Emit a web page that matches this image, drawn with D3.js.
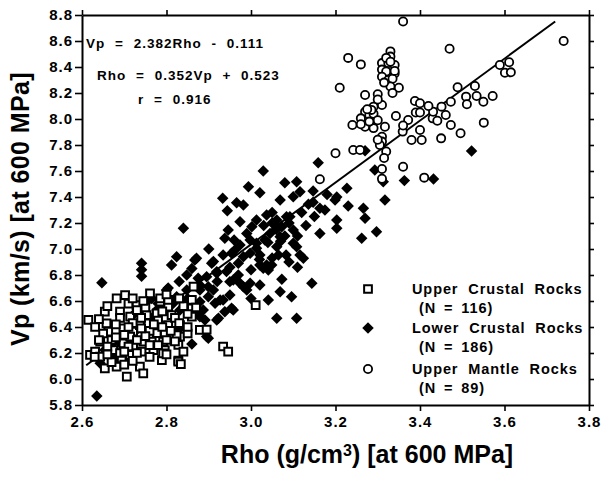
<!DOCTYPE html>
<html>
<head>
<meta charset="utf-8">
<script src="https://cdn.jsdelivr.net/npm/d3@7"></script>
<style>
  body { margin: 0; background: #fff; }
  svg { display: block; font-family: "Liberation Sans", Arial, Helvetica, sans-serif; font-weight: bold; }
  .axis path, .axis line { stroke: #000; }
  .axis path { stroke-width: 2; }
  .axis line { stroke-width: 1.6; }
  .axis text { font-weight: bold; fill: #000; letter-spacing: 1px; font-family: "Liberation Sans", Arial, sans-serif; }
</style>
</head>
<body>
<div class="graph"></div>
<script>
// data: [rho (g/cm3), vp (km/s)] at 600 MPa
const upperCrust = [
  [2.682, 6.62], [2.702, 6.646], [2.615, 6.454], [2.631, 6.40], [2.654, 6.518], [2.658, 6.428],
  [2.662, 6.364], [2.619, 6.185], [2.631, 6.21], [2.643, 6.287], [2.654, 6.082], [2.682, 6.095],
  [2.706, 6.018], [2.694, 6.159], [2.714, 6.185], [2.737, 6.095], [2.745, 6.044], [2.741, 6.21],
  [2.789, 6.146], [2.796, 6.223], [2.828, 6.141], [2.792, 6.287], [2.777, 6.352], [2.804, 6.415],
  [2.832, 6.326], [2.761, 6.659], [2.729, 6.569], [2.785, 6.595], [2.753, 6.492], [2.777, 6.505],
  [2.714, 6.479], [2.69, 6.518], [2.86, 6.608], [2.86, 6.544], [2.86, 6.479], [2.879, 6.377],
  [2.895, 6.38], [2.864, 6.71], [2.757, 6.428], [2.698, 6.39], [2.721, 6.364], [2.765, 6.287],
  [2.745, 6.287], [2.643, 6.172], [2.674, 6.223], [2.698, 6.274], [2.714, 6.326], [2.67, 6.30],
  [2.737, 6.415], [2.812, 6.492], [2.804, 6.556], [2.832, 6.415], [2.796, 6.352], [2.828, 6.262],
  [2.792, 6.197], [2.769, 6.223], [2.721, 6.249], [2.934, 6.25], [2.946, 6.21], [3.011, 6.569],
  [2.824, 6.338], [2.828, 6.133], [2.834, 6.115], [2.785, 6.62], [2.804, 6.608], [2.75, 6.55],
  [2.84, 6.56], [2.66, 6.25], [2.69, 6.20], [2.70, 6.34], [2.72, 6.43], [2.74, 6.47],
  [2.76, 6.37], [2.78, 6.45], [2.80, 6.30], [2.81, 6.37], [2.82, 6.47], [2.78, 6.26],
  [2.75, 6.33], [2.73, 6.30], [2.71, 6.25], [2.68, 6.32], [2.65, 6.35], [2.64, 6.46],
  [2.63, 6.17], [2.67, 6.13], [2.70, 6.11], [2.72, 6.14], [2.76, 6.17], [2.80, 6.19],
  [2.84, 6.21], [2.85, 6.35], [2.83, 6.43], [2.85, 6.50], [2.87, 6.55], [2.79, 6.52],
  [2.73, 6.53], [2.71, 6.58], [2.69, 6.47], [2.66, 6.56], [2.72, 6.62], [2.745, 6.60],
  [2.80, 6.65], [2.83, 6.62], [2.76, 6.26], [2.74, 6.39], [2.71, 6.40], [2.68, 6.42],
  [2.77, 6.42], [2.79, 6.40], [2.82, 6.29], [2.85, 6.40], [2.64, 6.30], [2.66, 6.19],
  [2.70, 6.21], [2.73, 6.20]
]

const lowerCrust = [
  [2.635, 5.87], [2.647, 6.74], [2.741, 6.89], [2.741, 6.84], [2.741, 6.79], [2.804, 6.70],
  [2.812, 6.877], [2.824, 6.94], [2.848, 6.80], [2.867, 6.915], [2.875, 6.775], [2.86, 6.27],
  [2.895, 6.326], [2.919, 6.454], [2.958, 6.531], [2.934, 6.608], [2.879, 6.595], [2.887, 6.531],
  [2.974, 6.736], [2.99, 6.685], [2.95, 6.749], [2.919, 6.826], [2.911, 6.685], [2.907, 6.89],
  [2.84, 7.159], [2.753, 6.595], [2.765, 6.62], [2.745, 6.518], [2.725, 6.505], [2.706, 6.30],
  [2.686, 6.287], [2.674, 6.236], [2.666, 6.197], [2.654, 6.223], [2.80, 6.685], [2.824, 6.633],
  [2.816, 6.582], [2.84, 6.595], [2.848, 6.685], [2.832, 6.531], [2.792, 6.556], [2.777, 6.531],
  [2.875, 6.505], [2.891, 6.454], [2.899, 6.71], [2.899, 6.633], [2.698, 6.223], [2.721, 6.287],
  [2.753, 6.352], [2.765, 6.415], [2.729, 6.377], [2.785, 6.428], [2.769, 6.479], [2.682, 6.172],
  [2.643, 6.121], [2.706, 6.172], [2.911, 6.903], [2.934, 6.954], [2.954, 6.967], [2.982, 6.941],
  [2.998, 6.967], [3.021, 6.877], [3.037, 6.877], [3.049, 6.877], [3.029, 6.851], [3.041, 6.838],
  [3.065, 6.954], [3.116, 6.954], [3.124, 6.928], [3.073, 6.767], [3.144, 6.736], [2.895, 6.787],
  [2.919, 6.813], [2.942, 6.826], [2.958, 6.762], [2.982, 6.71], [2.998, 6.736], [3.021, 6.723],
  [3.069, 6.672], [3.041, 6.608], [3.096, 6.633], [3.061, 6.467], [3.108, 6.467], [2.95, 6.646],
  [2.927, 6.608], [2.915, 6.582], [2.954, 6.544], [2.938, 6.518], [2.923, 6.467], [2.899, 6.313],
  [2.828, 6.377], [2.879, 6.685], [2.879, 6.479], [3.159, 7.663], [3.029, 7.60], [2.994, 7.479],
  [3.021, 7.433], [2.933, 7.39], [2.966, 7.356], [2.982, 7.338], [2.944, 7.295], [3.069, 7.377],
  [3.08, 7.51], [3.108, 7.518], [3.10, 7.402], [3.116, 7.441], [3.147, 7.446], [3.136, 7.344],
  [3.199, 7.377], [3.227, 7.467], [3.266, 7.313], [3.27, 7.236], [3.293, 7.608], [3.317, 7.377],
  [3.203, 7.223], [3.203, 7.159], [3.163, 7.12], [3.262, 7.082], [3.297, 7.133], [2.974, 7.21],
  [2.946, 7.146], [2.938, 7.082], [2.974, 7.03], [2.871, 6.928], [3.013, 7.005], [3.108, 7.018],
  [3.092, 7.249], [3.002, 7.172], [3.013, 7.223], [3.037, 7.262], [3.061, 7.223], [3.084, 7.249],
  [3.073, 7.172], [3.10, 7.146], [3.045, 7.12], [3.033, 7.069], [3.069, 7.095], [3.061, 7.018],
  [3.10, 7.044], [3.013, 7.044], [2.998, 7.069], [2.962, 6.992], [3.021, 6.954], [3.083, 6.954],
  [3.163, 7.313], [3.175, 7.30], [3.147, 7.36], [3.313, 7.518], [3.363, 7.526], [3.432, 7.538],
  [3.203, 7.40], [3.522, 7.754], [3.27, 7.756], [3.05, 7.20], [3.06, 7.15], [3.08, 7.10],
  [3.04, 7.05], [3.07, 7.06], [3.09, 7.20], [3.05, 7.28], [3.11, 7.10], [3.12, 7.28],
  [3.03, 7.18], [2.99, 7.12], [2.96, 7.07], [3.02, 6.92], [3.05, 6.93], [3.09, 6.90],
  [2.97, 6.89], [2.95, 6.86], [2.92, 6.75], [2.97, 6.80], [3.00, 6.84], [2.86, 6.85],
  [2.88, 6.72], [2.83, 6.75], [2.85, 6.62], [2.80, 6.60], [2.78, 6.58], [3.13, 7.18],
  [3.15, 7.25], [3.18, 7.42], [3.23, 7.33], [2.90, 7.00], [3.11, 6.86], [3.00, 6.62]
]

const upperMantle = [
  [3.36, 8.75], [3.74, 8.60], [3.47, 8.54], [3.23, 8.47], [3.26, 8.42], [3.21, 8.24],
  [3.33, 8.52], [3.33, 8.48], [3.31, 8.43], [3.325, 8.43], [3.34, 8.415], [3.31, 8.38],
  [3.32, 8.365], [3.34, 8.35], [3.31, 8.325], [3.325, 8.30], [3.335, 8.31], [3.33, 8.25],
  [3.35, 8.24], [3.335, 8.20], [3.27, 8.185], [3.30, 8.19], [3.29, 8.095], [3.31, 8.108],
  [3.27, 8.056], [3.28, 8.03], [3.29, 8.04], [3.26, 8.005], [3.285, 8.07], [3.24, 7.954],
  [3.27, 7.94], [3.29, 7.93], [3.317, 7.94], [3.343, 8.023], [3.372, 7.992], [3.388, 8.138],
  [3.40, 8.121], [3.39, 8.05], [3.40, 8.05], [3.359, 7.903], [3.40, 7.915], [3.404, 7.838],
  [3.38, 7.838], [3.31, 7.864], [3.31, 7.826], [3.32, 7.75], [3.242, 7.762], [3.258, 7.762],
  [3.20, 7.736], [3.36, 7.633], [3.31, 7.615], [3.31, 7.54], [3.41, 7.549], [3.163, 7.536],
  [3.45, 7.851], [3.43, 8.005], [3.441, 7.987], [3.451, 8.095], [3.461, 8.031], [3.473, 8.133],
  [3.473, 7.954], [3.489, 8.244], [3.509, 8.172], [3.511, 8.113], [3.53, 8.254], [3.534, 8.177],
  [3.55, 8.133], [3.572, 8.177], [3.551, 7.972], [3.496, 7.89], [3.589, 8.415], [3.611, 8.436],
  [3.601, 8.356], [3.615, 8.359], [3.275, 8.075], [3.30, 7.99], [3.305, 7.80], [3.315, 7.70],
  [3.431, 8.056], [3.30, 7.84], [3.32, 8.47], [3.34, 8.37], [3.315, 8.28], [3.28, 7.98],
  [3.26, 7.96], [3.36, 7.95], [3.30, 8.15], [3.42, 8.10], [3.33, 8.44]
]

const xTicks = [2.6, 2.8, 3.0, 3.2, 3.4, 3.6, 3.8]
const yTicks = [5.8, 6.0, 6.2, 6.4, 6.6, 6.8, 7.0, 7.2, 7.4, 7.6, 7.8, 8.0, 8.2, 8.4, 8.6, 8.8]

// regression Vp = a*Rho + b, drawn over this Rho range
const fit = { a: 2.382, b: -0.111 }
const fitRange = [2.61, 3.72]
const equations = ['Vp = 2.382Rho - 0.111', 'Rho = 0.352Vp + 0.523', 'r = 0.916']

const legendNames = ['Upper Crustal Rocks', 'Lower Crustal Rocks', 'Upper Mantle Rocks']
const legendCounts = ['(N = 116)', '(N = 186)', '(N = 89)']

// config
const w = 604
const h = 478
const margin = { left: 82, right: 589, top: 15, bottom: 405 }

const xScale = d3.scaleLinear().domain([2.6, 3.8]).range([margin.left, margin.right])
const yScale = d3.scaleLinear().domain([5.8, 8.8]).range([margin.bottom, margin.top])

const svg = d3.select('.graph')
    .append('svg')
    .attr('width', w)
    .attr('height', h)

// axes
const fmt = d3.format('.1f')
svg.append('g')
    .attr('class', 'axis')
    .attr('transform', 'translate(0,' + margin.bottom + ')')
    .call(d3.axisBottom(xScale).tickValues(xTicks).tickFormat(fmt).tickSizeInner(6).tickSizeOuter(0).tickPadding(5))
svg.append('g')
    .attr('class', 'axis')
    .attr('transform', 'translate(0,' + margin.top + ')')
    .call(d3.axisTop(xScale).tickValues(xTicks).tickFormat('').tickSizeInner(5).tickSizeOuter(0))
svg.append('g')
    .attr('class', 'axis')
    .attr('transform', 'translate(' + margin.left + ',0)')
    .call(d3.axisLeft(yScale).tickValues(yTicks).tickFormat(fmt).tickSizeInner(7).tickSizeOuter(0).tickPadding(2))
svg.append('g')
    .attr('class', 'axis')
    .attr('transform', 'translate(' + margin.right + ',0)')
    .call(d3.axisRight(yScale).tickValues(yTicks).tickFormat('').tickSizeInner(5).tickSizeOuter(0))

svg.selectAll('.axis text').attr('font-size', 15)

// axis titles
const xt = svg.append('text')
    .attr('x', 367)
    .attr('y', 463)
    .attr('text-anchor', 'middle')
    .attr('font-size', 25)
xt.append('tspan').text('Rho (g/cm')
xt.append('tspan').attr('font-size', 16).attr('dy', -7).text('3')
xt.append('tspan').attr('dy', 7).text(') [at 600 MPa]')

svg.append('text')
    .attr('transform', 'translate(29,209) rotate(-90)')
    .attr('text-anchor', 'middle')
    .attr('font-size', 25)
    .attr('letter-spacing', 0.4)
    .text('Vp (km/s) [at 600 MPa]')

// regression line
svg.append('line')
    .attr('x1', xScale(fitRange[0]))
    .attr('y1', yScale(fit.a * fitRange[0] + fit.b))
    .attr('x2', xScale(fitRange[1]))
    .attr('y2', yScale(fit.a * fitRange[1] + fit.b))
    .attr('stroke', '#000')
    .attr('stroke-width', 2)

// markers
const square = d3.symbol(d3.symbolSquare, 60)
const diamond = d3.symbol(d3.symbolSquare, 66)

const points = svg.append('g').attr('id', 'graph-points')

points.selectAll('path.lower')
    .data(lowerCrust)
    .join('path')
    .attr('class', 'lower')
    .attr('d', diamond)
    .attr('transform', d => 'translate(' + xScale(d[0]) + ',' + yScale(d[1]) + ') rotate(45)')
    .attr('fill', '#000')

points.selectAll('path.upper')
    .data(upperCrust)
    .join('path')
    .attr('class', 'upper')
    .attr('d', square)
    .attr('transform', d => 'translate(' + xScale(d[0]) + ',' + yScale(d[1]) + ')')
    .attr('fill', '#fff')
    .attr('stroke', '#000')
    .attr('stroke-width', 2)

points.selectAll('circle.mantle')
    .data(upperMantle)
    .join('circle')
    .attr('class', 'mantle')
    .attr('cx', d => xScale(d[0]))
    .attr('cy', d => yScale(d[1]))
    .attr('r', 4.1)
    .attr('fill', '#fff')
    .attr('stroke', '#000')
    .attr('stroke-width', 1.8)

// equations
const eqPos = [[86, 48], [97, 80], [138, 104]]
svg.selectAll('text.eq')
    .data(equations)
    .join('text')
    .attr('class', 'eq')
    .attr('x', (d, i) => eqPos[i][0])
    .attr('y', (d, i) => eqPos[i][1])
    .attr('font-size', 13.5)
    .attr('letter-spacing', 1)
    .attr('word-spacing', 5)
    .text(d => d)

// legend
const legY = [289, 328, 369]
const leg = svg.append('g')
leg.append('path')
    .attr('d', square)
    .attr('transform', 'translate(368,' + legY[0] + ')')
    .attr('fill', '#fff').attr('stroke', '#000').attr('stroke-width', 2)
leg.append('path')
    .attr('d', diamond)
    .attr('transform', 'translate(368,' + legY[1] + ') rotate(45)')
    .attr('fill', '#000')
leg.append('circle')
    .attr('cx', 368).attr('cy', legY[2]).attr('r', 4.1)
    .attr('fill', '#fff').attr('stroke', '#000').attr('stroke-width', 1.8)

leg.selectAll('text.name')
    .data(legendNames)
    .join('text')
    .attr('class', 'name')
    .attr('x', 412)
    .attr('y', (d, i) => legY[i] + 5)
    .attr('font-size', 14.5)
    .attr('letter-spacing', 0.9)
    .attr('word-spacing', 5)
    .text(d => d)

leg.selectAll('text.count')
    .data(legendCounts)
    .join('text')
    .attr('class', 'count')
    .attr('x', 419)
    .attr('y', (d, i) => legY[i] + 24)
    .attr('font-size', 14.5)
    .attr('letter-spacing', 0.9)
    .attr('word-spacing', 3)
    .text(d => d)
</script>
</body>
</html>
